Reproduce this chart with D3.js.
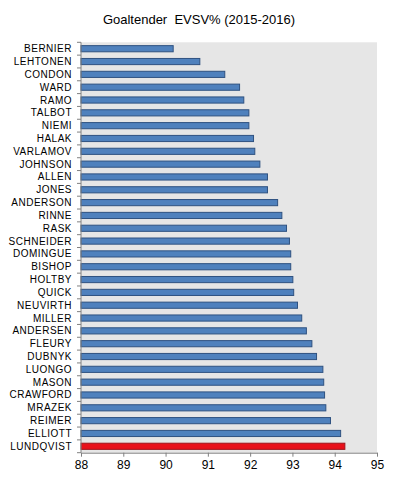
<!DOCTYPE html>
<html><head><meta charset="utf-8">
<script src="https://cdn.jsdelivr.net/npm/d3@7"></script>
<style>body{margin:0;background:#fff}svg{display:block}</style>
</head><body>
<svg id="c" width="398" height="480"></svg>
<script>
const goalies = ["BERNIER","LEHTONEN","CONDON","WARD","RAMO","TALBOT","NIEMI","HALAK","VARLAMOV","JOHNSON","ALLEN","JONES","ANDERSON","RINNE","RASK","SCHNEIDER","DOMINGUE","BISHOP","HOLTBY","QUICK","NEUVIRTH","MILLER","ANDERSEN","FLEURY","DUBNYK","LUONGO","MASON","CRAWFORD","MRAZEK","REIMER","ELLIOTT","LUNDQVIST"];
const evsv = [90.18,90.81,91.40,91.75,91.85,91.97,91.97,92.08,92.11,92.23,92.41,92.41,92.65,92.75,92.86,92.93,92.96,92.96,93.01,93.03,93.12,93.22,93.33,93.46,93.57,93.72,93.74,93.76,93.79,93.90,94.14,94.24];
const highlight = ["LUNDQVIST"];
const xTicks = [88,89,90,91,92,93,94,95];
const title = "Goaltender\u00a0 EVSV% (2015-2016)";

const svg = d3.select("#c");
const L = 81, R = 377, T = 42.3, B = 452.7;
const x = d3.scaleLinear().domain([88,95]).range([L,R]);
const y = d3.scaleBand().domain(goalies).range([T,B]).paddingInner(0.52).paddingOuter(0.26);

svg.append("rect").attr("x",L).attr("y",T).attr("width",R-L).attr("height",B-T).attr("fill","#e6e6e6");

svg.append("text").attr("x",199).attr("y",24).attr("text-anchor","middle")
  .attr("font-family","Liberation Sans, Arial, sans-serif").attr("font-size",13).attr("fill","#000").text(title);

svg.append("g").selectAll("rect").data(goalies).join("rect")
  .attr("x",x(88)).attr("y",d=>y(d))
  .attr("width",(d,i)=>x(evsv[i])-x(88)).attr("height",y.bandwidth())
  .attr("fill",d=>highlight.includes(d)?"#e8101a":"#4f81bd")
  .attr("stroke",d=>highlight.includes(d)?"#a0141c":"#2f5281").attr("stroke-width",1);

// y axis
const step = (B-T)/goalies.length;
const ya = svg.append("g");
ya.append("line").attr("x1",L).attr("x2",L).attr("y1",T).attr("y2",B).attr("stroke","#808080");
ya.selectAll("line.t").data(d3.range(goalies.length+1)).join("line").attr("class","t")
  .attr("x1",L-4).attr("x2",L).attr("y1",i=>T+i*step).attr("y2",i=>T+i*step).attr("stroke","#808080");
ya.selectAll("text").data(goalies).join("text")
  .attr("x",L-9).attr("y",d=>y(d)+y.bandwidth()/2).attr("dy","0.35em")
  .attr("text-anchor","end").attr("font-family","Liberation Sans, Arial, sans-serif")
  .attr("font-size",10).attr("letter-spacing","0.5px").attr("fill","#000").text(d=>d);

// x axis
const xa = svg.append("g").attr("transform",`translate(0,${B})`)
  .call(d3.axisBottom(x).tickValues(xTicks).tickFormat(d3.format("d")).tickSize(4).tickSizeOuter(0));
xa.select(".domain").attr("stroke","#808080");
xa.selectAll(".tick line").attr("stroke","#808080");
xa.selectAll(".tick text").attr("font-family","Liberation Sans, Arial, sans-serif").attr("font-size",12).attr("fill","#000").attr("y",8);
</script>
</body></html>
